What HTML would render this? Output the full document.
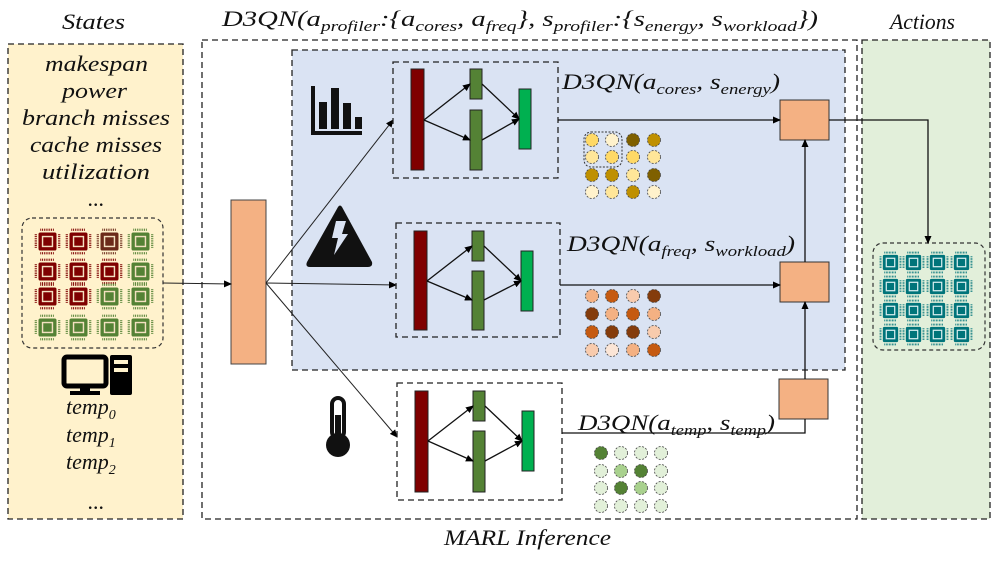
<!DOCTYPE html>
<html><head><meta charset="utf-8"><style>
html,body{margin:0;padding:0;background:#fff;}
svg{display:block;}
.t{font-family:"Liberation Serif",serif;font-style:italic;fill:#111;}
</style></head><body>
<svg width="996" height="561" viewBox="0 0 996 561" xmlns="http://www.w3.org/2000/svg">
<defs>
<marker id="ar" markerWidth="8" markerHeight="8" refX="7" refY="4" orient="auto" markerUnits="userSpaceOnUse"><path d="M0,0.5 L8,4 L0,7.5 Z" fill="#000"/></marker>
<symbol id="chip" viewBox="0 0 30 30">
<g stroke="currentColor" stroke-width="2.5" stroke-dasharray="1 1" fill="none">
<line x1="7" y1="2" x2="23" y2="2"/><line x1="7" y1="28" x2="23" y2="28"/>
<line x1="2" y1="7" x2="2" y2="23"/><line x1="28" y1="7" x2="28" y2="23"/>
</g>
<rect x="5" y="5" width="20" height="20" rx="2" fill="currentColor"/>
<rect x="9.5" y="9.5" width="11" height="11" fill="none" stroke="#f3e0c0" stroke-width="1.6"/>
</symbol>
<symbol id="chipt" viewBox="0 0 30 30">
<g stroke="currentColor" stroke-width="2.5" stroke-dasharray="1 1" fill="none">
<line x1="7" y1="2" x2="23" y2="2"/><line x1="7" y1="28" x2="23" y2="28"/>
<line x1="2" y1="7" x2="2" y2="23"/><line x1="28" y1="7" x2="28" y2="23"/>
</g>
<rect x="5" y="5" width="20" height="20" rx="2" fill="currentColor"/>
<rect x="9.5" y="9.5" width="11" height="11" fill="none" stroke="#d8eef0" stroke-width="1.6"/>
</symbol>
</defs>

<!-- States panel -->
<rect x="8" y="44" width="175" height="475" fill="#fff2cc" stroke="#222" stroke-width="1.3" stroke-dasharray="6 4"/>
<text class="t" x="62" y="29" font-size="22" textLength="63" lengthAdjust="spacingAndGlyphs">States</text>
<g class="t" font-size="22">
<text x="45" y="71" textLength="103" lengthAdjust="spacingAndGlyphs">makespan</text>
<text x="62" y="98" textLength="65" lengthAdjust="spacingAndGlyphs">power</text>
<text x="22" y="125" textLength="148" lengthAdjust="spacingAndGlyphs">branch misses</text>
<text x="30" y="152" textLength="132" lengthAdjust="spacingAndGlyphs">cache misses</text>
<text x="42" y="179" textLength="108" lengthAdjust="spacingAndGlyphs">utilization</text>
<text x="88" y="206">...</text>
<text x="88" y="509">...</text>
</g>
<rect x="22" y="218" width="141" height="130" rx="10" fill="none" stroke="#333" stroke-width="1.2" stroke-dasharray="4 3"/>
<g>
<use href="#chip" x="34" y="228" width="27" height="27" color="#7f0000"/>
<use href="#chip" x="65" y="228" width="27" height="27" color="#7f0000"/>
<use href="#chip" x="96" y="228" width="27" height="27" color="#6b2a1a"/>
<use href="#chip" x="127" y="228" width="27" height="27" color="#548235"/>
<use href="#chip" x="34" y="258" width="27" height="27" color="#7f0000"/>
<use href="#chip" x="65" y="258" width="27" height="27" color="#7f0000"/>
<use href="#chip" x="96" y="258" width="27" height="27" color="#7f0000"/>
<use href="#chip" x="127" y="258" width="27" height="27" color="#548235"/>
<use href="#chip" x="34" y="283" width="27" height="27" color="#7f0000"/>
<use href="#chip" x="65" y="283" width="27" height="27" color="#7f0000"/>
<use href="#chip" x="96" y="283" width="27" height="27" color="#548235"/>
<use href="#chip" x="127" y="283" width="27" height="27" color="#548235"/>
<use href="#chip" x="34" y="314" width="27" height="27" color="#548235"/>
<use href="#chip" x="65" y="314" width="27" height="27" color="#548235"/>
<use href="#chip" x="96" y="314" width="27" height="27" color="#548235"/>
<use href="#chip" x="127" y="314" width="27" height="27" color="#548235"/>
</g>
<!-- computer icon -->
<rect x="64" y="357" width="42" height="29" rx="3" fill="none" stroke="#000" stroke-width="5"/>
<rect x="80" y="386" width="10" height="6" fill="#000"/>
<rect x="70" y="391" width="30" height="4" fill="#000"/>
<rect x="110" y="355" width="22" height="40" rx="2" fill="#000"/>
<rect x="114" y="360" width="14" height="4" fill="#fff2cc"/>
<rect x="114" y="368" width="14" height="4" fill="#fff2cc"/>
<g class="t" font-size="22">
<text x="66" y="414">temp<tspan font-size="14" dy="5">0</tspan></text>
<text x="66" y="442">temp<tspan font-size="14" dy="5">1</tspan></text>
<text x="66" y="469">temp<tspan font-size="14" dy="5">2</tspan></text>
</g>

<!-- Main box -->
<rect x="202" y="40" width="655" height="479" fill="none" stroke="#222" stroke-width="1.3" stroke-dasharray="6 4"/>
<rect x="292" y="50" width="553" height="320" fill="#dae3f3" stroke="#222" stroke-width="1.3" stroke-dasharray="6 4"/>
<text class="t" x="222" y="26" font-size="22" textLength="596" lengthAdjust="spacingAndGlyphs">D3QN(a<tspan font-size="15" dy="5">profiler</tspan><tspan dy="-5">:{a</tspan><tspan font-size="15" dy="5">cores</tspan><tspan dy="-5">, a</tspan><tspan font-size="15" dy="5">freq</tspan><tspan dy="-5">}, s</tspan><tspan font-size="15" dy="5">profiler</tspan><tspan dy="-5">:{s</tspan><tspan font-size="15" dy="5">energy</tspan><tspan dy="-5">, s</tspan><tspan font-size="15" dy="5">workload</tspan><tspan dy="-5">})</tspan></text>
<text class="t" x="444" y="545" font-size="22" textLength="167" lengthAdjust="spacingAndGlyphs">MARL Inference</text>

<!-- Actions -->
<rect x="862" y="40" width="128" height="479" fill="#e2efda" stroke="#222" stroke-width="1.3" stroke-dasharray="6 4"/>
<text class="t" x="890" y="29" font-size="22" textLength="65" lengthAdjust="spacingAndGlyphs">Actions</text>
<rect x="873" y="243" width="112" height="107" rx="10" fill="none" stroke="#333" stroke-width="1.2" stroke-dasharray="4 3"/>
<g>
<use href="#chipt" x="879" y="251" width="23" height="23" color="#00747a"/>
<use href="#chipt" x="902" y="251" width="23" height="23" color="#00747a"/>
<use href="#chipt" x="926" y="251" width="23" height="23" color="#00747a"/>
<use href="#chipt" x="950" y="251" width="23" height="23" color="#00747a"/>
<use href="#chipt" x="879" y="275" width="23" height="23" color="#00747a"/>
<use href="#chipt" x="902" y="275" width="23" height="23" color="#00747a"/>
<use href="#chipt" x="926" y="275" width="23" height="23" color="#00747a"/>
<use href="#chipt" x="950" y="275" width="23" height="23" color="#00747a"/>
<use href="#chipt" x="879" y="299" width="23" height="23" color="#00747a"/>
<use href="#chipt" x="902" y="299" width="23" height="23" color="#00747a"/>
<use href="#chipt" x="926" y="299" width="23" height="23" color="#00747a"/>
<use href="#chipt" x="950" y="299" width="23" height="23" color="#00747a"/>
<use href="#chipt" x="879" y="323" width="23" height="23" color="#00747a"/>
<use href="#chipt" x="902" y="323" width="23" height="23" color="#00747a"/>
<use href="#chipt" x="926" y="323" width="23" height="23" color="#00747a"/>
<use href="#chipt" x="950" y="323" width="23" height="23" color="#00747a"/>
</g>

<!-- central orange -->
<rect x="231" y="200" width="35" height="164" fill="#f4b183" stroke="#444" stroke-width="1"/>
<g stroke="#222" stroke-width="1" fill="none">
<line x1="163" y1="283" x2="231" y2="284" marker-end="url(#ar)"/>
<line x1="266" y1="283" x2="393" y2="120" marker-end="url(#ar)"/>
<line x1="266" y1="283" x2="396" y2="285" marker-end="url(#ar)"/>
<line x1="266" y1="283" x2="397" y2="437" marker-end="url(#ar)"/>
</g>

<!-- icons -->
<g fill="#111">
<rect x="311" y="86" width="4" height="49"/><rect x="311" y="131" width="51" height="4"/>
<rect x="319" y="102" width="8" height="27"/><rect x="331" y="88" width="8" height="41"/>
<rect x="343" y="103" width="8" height="26"/><rect x="355" y="117" width="7" height="12"/>
<path d="M338,207 Q340,204 342,207 L372,262 Q373,267 368,267 L310,267 Q305,267 307,262 Z"/>
<path d="M336,221 L346,221 L342,234 L348,234 L334,255 L338,238 L332,238 Z" fill="#dae3f3"/>
<rect x="332" y="398" width="12" height="40" rx="6" fill="none" stroke="#111" stroke-width="4"/>
<circle cx="338" cy="445" r="12"/>
<rect x="335" y="415" width="6" height="28" fill="#111"/>
</g>

<!-- networks -->
<g stroke="#222" stroke-width="1.3" stroke-dasharray="6 4" fill="none">
<rect x="393" y="62" width="165" height="116"/>
<rect x="396" y="223" width="164" height="114"/>
<rect x="397" y="383" width="165" height="117"/>
</g>
<g stroke="#222" stroke-width="1">
<rect x="411" y="69" width="13" height="101" fill="#7f0000"/>
<rect x="470" y="69" width="12" height="30" fill="#548235"/>
<rect x="470" y="110" width="12" height="60" fill="#548235"/>
<rect x="519" y="89" width="12" height="60" fill="#00b050"/>
<rect x="414" y="231" width="13" height="99" fill="#7f0000"/>
<rect x="472" y="231" width="12" height="30" fill="#548235"/>
<rect x="472" y="271" width="12" height="59" fill="#548235"/>
<rect x="521" y="251" width="12" height="60" fill="#00b050"/>
<rect x="415" y="391" width="13" height="101" fill="#7f0000"/>
<rect x="473" y="391" width="12" height="30" fill="#548235"/>
<rect x="473" y="431" width="12" height="61" fill="#548235"/>
<rect x="522" y="411" width="12" height="60" fill="#00b050"/>
</g>
<g stroke="#111" stroke-width="1.3" fill="none">
<line x1="424" y1="120" x2="470" y2="84" marker-end="url(#ar)"/>
<line x1="424" y1="120" x2="470" y2="140" marker-end="url(#ar)"/>
<line x1="482" y1="84" x2="519" y2="119" marker-end="url(#ar)"/>
<line x1="482" y1="140" x2="519" y2="119" marker-end="url(#ar)"/>
<line x1="427" y1="281" x2="472" y2="246" marker-end="url(#ar)"/>
<line x1="427" y1="281" x2="472" y2="300" marker-end="url(#ar)"/>
<line x1="484" y1="246" x2="521" y2="281" marker-end="url(#ar)"/>
<line x1="484" y1="300" x2="521" y2="281" marker-end="url(#ar)"/>
<line x1="428" y1="441" x2="473" y2="406" marker-end="url(#ar)"/>
<line x1="428" y1="441" x2="473" y2="461" marker-end="url(#ar)"/>
<line x1="485" y1="406" x2="522" y2="441" marker-end="url(#ar)"/>
<line x1="485" y1="461" x2="522" y2="441" marker-end="url(#ar)"/>
</g>

<!-- labels -->
<text class="t" x="562" y="89" font-size="22" textLength="218" lengthAdjust="spacingAndGlyphs">D3QN(a<tspan font-size="15" dy="5">cores</tspan><tspan dy="-5">, s</tspan><tspan font-size="15" dy="5">energy</tspan><tspan dy="-5">)</tspan></text>
<text class="t" x="567" y="251" font-size="22" textLength="228" lengthAdjust="spacingAndGlyphs">D3QN(a<tspan font-size="15" dy="5">freq</tspan><tspan dy="-5">, s</tspan><tspan font-size="15" dy="5">workload</tspan><tspan dy="-5">)</tspan></text>
<text class="t" x="578" y="430" font-size="22" textLength="197" lengthAdjust="spacingAndGlyphs">D3QN(a<tspan font-size="15" dy="5">temp</tspan><tspan dy="-5">, s</tspan><tspan font-size="15" dy="5">temp</tspan><tspan dy="-5">)</tspan></text>

<!-- output boxes -->
<g fill="#f4b183" stroke="#333" stroke-width="1">
<rect x="780" y="100" width="49" height="40"/>
<rect x="780" y="262" width="49" height="40"/>
<rect x="779" y="379" width="49" height="40"/>
</g>
<g stroke="#111" stroke-width="1.3" fill="none">
<line x1="558" y1="120" x2="780" y2="120" marker-end="url(#ar)"/>
<line x1="560" y1="285" x2="780" y2="285" marker-end="url(#ar)"/>
<polyline points="562,433 805,433 805,419"/>
<line x1="805" y1="379" x2="805" y2="302" marker-end="url(#ar)"/>
<line x1="805" y1="262" x2="805" y2="140" marker-end="url(#ar)"/>
<polyline points="829,120 928,120 928,243" marker-end="url(#ar)"/>
</g>

<!-- dot grids -->
<g stroke="#444" stroke-width="0.8" stroke-dasharray="2 1.5">
<rect x="584" y="132" width="38" height="35" rx="7" fill="none" stroke="#333" stroke-width="1"/>
<circle cx="592" cy="140" r="6.5" fill="#ffd966"/><circle cx="612" cy="140" r="6.5" fill="#fff2cc"/><circle cx="633" cy="140" r="6.5" fill="#7f6000"/><circle cx="654" cy="140" r="6.5" fill="#bf9000"/>
<circle cx="592" cy="157" r="6.5" fill="#ffe699"/><circle cx="612" cy="157" r="6.5" fill="#ffd966"/><circle cx="633" cy="157" r="6.5" fill="#ffd966"/><circle cx="654" cy="157" r="6.5" fill="#ffe699"/>
<circle cx="592" cy="175" r="6.5" fill="#bf9000"/><circle cx="612" cy="175" r="6.5" fill="#bf9000"/><circle cx="633" cy="175" r="6.5" fill="#ffe699"/><circle cx="654" cy="175" r="6.5" fill="#7f6000"/>
<circle cx="592" cy="192" r="6.5" fill="#fff2cc"/><circle cx="612" cy="192" r="6.5" fill="#ffe699"/><circle cx="633" cy="192" r="6.5" fill="#bf9000"/><circle cx="654" cy="192" r="6.5" fill="#fff2cc"/>

<circle cx="592" cy="296" r="6.5" fill="#f4b183"/><circle cx="612" cy="296" r="6.5" fill="#c55a11"/><circle cx="633" cy="296" r="6.5" fill="#f8cbad"/><circle cx="654" cy="296" r="6.5" fill="#843c0c"/>
<circle cx="592" cy="314" r="6.5" fill="#843c0c"/><circle cx="612" cy="314" r="6.5" fill="#f4b183"/><circle cx="633" cy="314" r="6.5" fill="#c55a11"/><circle cx="654" cy="314" r="6.5" fill="#f4b183"/>
<circle cx="592" cy="332" r="6.5" fill="#c55a11"/><circle cx="612" cy="332" r="6.5" fill="#843c0c"/><circle cx="633" cy="332" r="6.5" fill="#843c0c"/><circle cx="654" cy="332" r="6.5" fill="#f8cbad"/>
<circle cx="592" cy="350" r="6.5" fill="#f8cbad"/><circle cx="612" cy="350" r="6.5" fill="#fbe5d6"/><circle cx="633" cy="350" r="6.5" fill="#f4b183"/><circle cx="654" cy="350" r="6.5" fill="#c55a11"/>

<circle cx="601" cy="453" r="6.5" fill="#548235"/><circle cx="621" cy="453" r="6.5" fill="#e2f0d9"/><circle cx="641" cy="453" r="6.5" fill="#e2f0d9"/><circle cx="661" cy="453" r="6.5" fill="#e2f0d9"/>
<circle cx="601" cy="471" r="6.5" fill="#e2f0d9"/><circle cx="621" cy="471" r="6.5" fill="#a9d18e"/><circle cx="641" cy="471" r="6.5" fill="#548235"/><circle cx="661" cy="471" r="6.5" fill="#e2f0d9"/>
<circle cx="601" cy="488" r="6.5" fill="#e2f0d9"/><circle cx="621" cy="488" r="6.5" fill="#548235"/><circle cx="641" cy="488" r="6.5" fill="#a9d18e"/><circle cx="661" cy="488" r="6.5" fill="#e2f0d9"/>
<circle cx="601" cy="506" r="6.5" fill="#e2f0d9"/><circle cx="621" cy="506" r="6.5" fill="#e2f0d9"/><circle cx="641" cy="506" r="6.5" fill="#e2f0d9"/><circle cx="661" cy="506" r="6.5" fill="#e2f0d9"/>
</g>
</svg>
</body></html>
